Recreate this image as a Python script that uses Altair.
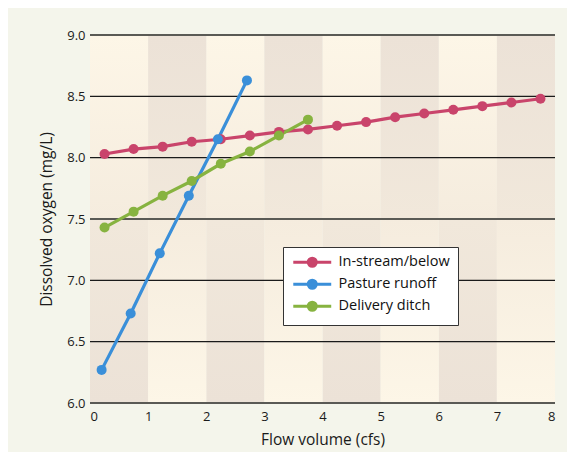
import altair as alt
import pandas as pd

# ---- data ----
series = ["In-stream/below", "Pasture runoff", "Delivery ditch"]
series_colors = ["#c9446b", "#3a8fd9", "#87b340"]

instream_x = [0.25, 0.75, 1.25, 1.75, 2.25, 2.75, 3.25, 3.75, 4.25, 4.75, 5.25, 5.75, 6.25, 6.75, 7.25, 7.75]
instream_y = [8.03, 8.07, 8.09, 8.13, 8.15, 8.18, 8.21, 8.23, 8.26, 8.29, 8.33, 8.36, 8.39, 8.42, 8.45, 8.48]

pasture_x = [0.2, 0.7, 1.2, 1.7, 2.2, 2.7]
pasture_y = [6.27, 6.73, 7.22, 7.69, 8.15, 8.63]

ditch_x = [0.25, 0.75, 1.25, 1.75, 2.25, 2.75, 3.25, 3.75]
ditch_y = [7.43, 7.56, 7.69, 7.81, 7.95, 8.05, 8.18, 8.31]

x_ticks = [0, 1, 2, 3, 4, 5, 6, 7, 8]
y_ticks = [6.0, 6.5, 7.0, 7.5, 8.0, 8.5, 9.0]

# ---- tables ----
rows = []
for name, xs_, ys_ in [(series[0], instream_x, instream_y),
                       (series[1], pasture_x, pasture_y),
                       (series[2], ditch_x, ditch_y)]:
    for i, (a, b) in enumerate(zip(xs_, ys_)):
        rows.append({"series": name, "flow": a, "oxygen": b, "order": i})
df = pd.DataFrame(rows)

cols = pd.DataFrame({"x0": x_ticks[:-1], "x1": x_ticks[1:]})
cols["parity"] = cols["x0"] % 2
even_cols = cols[cols["parity"] == 0]
odd_cols = cols[cols["parity"] == 1]

LIGHT, LIGHT_MID = "#fdf6e7", "#f5ecde"
DARK, DARK_MID = "#ece2d7", "#f1e8db"


def grad(top, bottom):
    return alt.LinearGradient(
        gradient="linear", x1=0, x2=0, y1=0, y2=1,
        stops=[alt.GradientStop(color=top, offset=0),
               alt.GradientStop(color=bottom, offset=1)])


xs = alt.Scale(domain=[0, 8], nice=False, zero=False)
ys = alt.Scale(domain=[6, 9], nice=False, zero=False)

FONT = "Open Sans"


def band(data, y_lo, y_hi, fill):
    return alt.Chart(data).mark_rect(fill=fill, strokeWidth=0).encode(
        x=alt.X("x0:Q", scale=xs),
        x2="x1:Q",
        y=alt.datum(y_lo),
        y2=alt.datum(y_hi),
    )


bg = (
    band(even_cols, 7.5, 9.0, grad(LIGHT, LIGHT_MID))
    + band(odd_cols, 7.5, 9.0, grad(DARK, DARK_MID))
    + band(even_cols, 6.0, 7.5, grad(DARK_MID, DARK))
    + band(odd_cols, 6.0, 7.5, grad(LIGHT_MID, LIGHT))
)

grid_df = pd.DataFrame({"v": y_ticks})
grid_df["major"] = grid_df["v"].isin([6.0, 7.5, 9.0])
grid_black = alt.Chart(grid_df[~grid_df["major"]]).mark_rule(
    color="#1a1a1a", strokeWidth=1.3).encode(y=alt.Y("v:Q", scale=ys))
grid_grey = alt.Chart(grid_df[grid_df["major"]]).mark_rule(
    color="#5a5a55", strokeWidth=2).encode(y=alt.Y("v:Q", scale=ys))

# legend symbol: horizontal line with a dot, drawn in a [-4,4] unit box
legend = alt.Legend(
    title=None,
    orient="none",
    legendX=193,
    legendY=212,
    fillColor="white",
    strokeColor="#333333",
    padding=8,
    symbolType="M-4,0L4,0M-0.85,0A0.85,0.85,0,1,1,0.85,0A0.85,0.85,0,1,1,-0.85,0Z",
    symbolSize=90,
    symbolStrokeWidth=3,
    symbolOffset=14,
    labelFont=FONT,
    labelFontSize=14.5,
    labelColor="#111111",
    rowPadding=1,
    labelOffset=19,
)

color = alt.Color("series:N", scale=alt.Scale(domain=series, range=series_colors),
                  sort=series, legend=legend)

x_enc = alt.X("flow:Q", scale=xs, title="Flow volume (cfs)",
              axis=alt.Axis(values=x_ticks, format="d", grid=False, ticks=False,
                            domain=False, labelPadding=7, titlePadding=9))
y_enc = alt.Y("oxygen:Q", scale=ys, title="Dissolved oxygen (mg/L)",
              axis=alt.Axis(values=y_ticks, format=".1f", grid=False, ticks=False,
                            domain=False, labelPadding=5, titlePadding=12))

lines = alt.Chart(df).mark_line(strokeWidth=3.2).encode(
    x=x_enc, y=y_enc, color=color, order="order:Q")
points = alt.Chart(df).mark_point(filled=True, size=100, opacity=1).encode(
    x="flow:Q", y="oxygen:Q", color=color)

chart = alt.layer(bg, grid_black, grid_grey, lines, points).properties(
    width=465, height=368,
    background="#f4f5eb",
    autosize=alt.AutoSizeParams(type="none"),
    padding={"left": 82, "top": 27, "right": 12, "bottom": 49},
).configure_view(stroke=None).configure_axis(
    labelFont=FONT, labelFontSize=13, labelColor="#1a1a1a",
    titleFont=FONT, titleFontSize=15.5, titleFontWeight="normal", titleColor="#1a1a1a",
)

chart.save("out.html", embed_options={"renderer": "svg", "actions": False})
